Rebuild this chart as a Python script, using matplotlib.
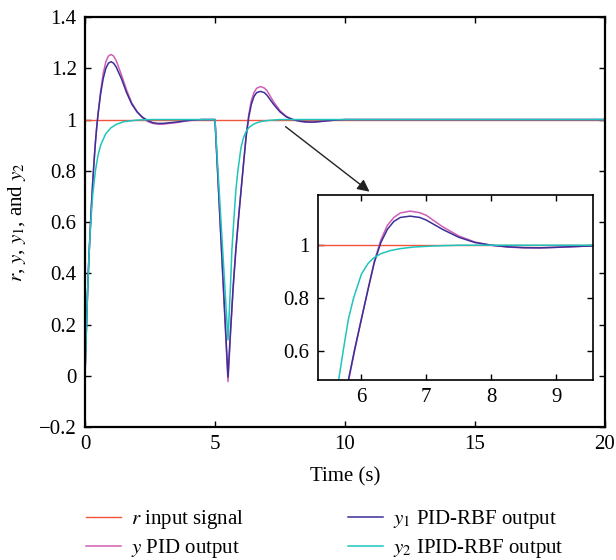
import matplotlib
matplotlib.use("Agg")
import matplotlib.pyplot as plt
from matplotlib.ticker import FuncFormatter, MultipleLocator

# ---------- Donnees ----------

# consigne r
t_r = [0, 20]
r = [1, 1]

# y : sortie PID
t_y = [0, 0.05, 0.1, 0.15, 0.2, 0.25, 0.3, 0.35, 0.4, 0.45, 0.5, 0.6, 0.7, 0.8, 0.9,
       1.0, 1.1, 1.2, 1.4, 1.6, 1.8, 2.0, 2.2, 2.4, 2.6, 2.8, 3.0, 3.5, 4.0, 4.5, 5.0,
       5.5, 5.6, 5.7, 5.8, 5.9, 6.0, 6.1, 6.2, 6.3, 6.4, 6.5, 6.6, 6.75,
       6.9, 7.0, 7.25, 7.5, 7.75, 8.0, 8.25, 8.5, 8.75, 9.0, 9.5, 10, 20]
y = [0, 0.17, 0.33, 0.46, 0.57, 0.67, 0.76, 0.84, 0.91, 0.97, 1.02, 1.11, 1.18, 1.225, 1.248,
     1.254, 1.248, 1.23, 1.175, 1.115, 1.065, 1.032, 1.008, 0.993, 0.985, 0.982, 0.982, 0.988, 0.996, 1.0, 1.0,
     -0.023, 0.17, 0.34, 0.485, 0.605, 0.72, 0.83, 0.94, 1.02, 1.075, 1.105, 1.122, 1.129,
     1.123, 1.113, 1.07, 1.035, 1.012, 1.0, 0.993, 0.99, 0.99, 0.992, 0.997, 1.0, 1.0]

# y1 : sortie PID-RBF
t_y1 = t_y
y1 = [0, 0.17, 0.33, 0.46, 0.57, 0.67, 0.76, 0.84, 0.91, 0.97, 1.02, 1.10, 1.16, 1.20, 1.22,
      1.226, 1.22, 1.205, 1.16, 1.105, 1.06, 1.03, 1.01, 0.997, 0.988, 0.985, 0.985, 0.99, 0.997, 1.0, 1.0,
      -0.005, 0.18, 0.35, 0.49, 0.61, 0.72, 0.83, 0.935, 1.01, 1.06, 1.09, 1.105, 1.11,
      1.105, 1.095, 1.06, 1.03, 1.01, 1.0, 0.994, 0.991, 0.99, 0.992, 0.997, 1.0, 1.0]

# y2 : sortie IPID-RBF
t_y2 = [0, 0.05, 0.1, 0.15, 0.2, 0.25, 0.3, 0.4, 0.5, 0.6, 0.8, 1.0, 1.2, 1.5, 2.0, 2.5, 5.0,
        5.5, 5.6, 5.65, 5.72, 5.8, 5.88, 6.0, 6.1, 6.19, 6.3, 6.45, 6.6, 6.8, 7.1, 7.5, 20]
y2 = [0, 0.17, 0.33, 0.46, 0.56, 0.64, 0.71, 0.80, 0.86, 0.90, 0.945, 0.968, 0.981, 0.992, 0.998, 1.0, 1.0,
      0.14, 0.36, 0.49, 0.60, 0.72, 0.80, 0.89, 0.93, 0.952, 0.968, 0.98, 0.987, 0.993, 0.997, 1.0, 1.0]

labels = [r"$r$ input signal", r"$y$ PID output",
          r"$y_1$ PID-RBF output", r"$y_2$ IPID-RBF output"]
colors = ["#f2553c", "#cf5fb4", "#3b2f98", "#1fc4bd"]

# ---------- Style ----------

plt.rcParams['font.family'] = ['Liberation Serif', 'DejaVu Serif']
plt.rcParams['mathtext.fontset'] = 'stix'
plt.rcParams['font.size'] = 15

fmt = FuncFormatter(lambda v, p: ("%g" % round(v, 3)).replace("-", "\u2212"))


def style_axes(ax, lw):
    for s in ax.spines.values():
        s.set_linewidth(lw)
    ax.tick_params(direction='in', top=True, right=True, length=4, width=1, pad=6)
    ax.xaxis.set_major_formatter(fmt)
    ax.yaxis.set_major_formatter(fmt)


def draw(ax):
    l0, = ax.plot(t_r, r, color=colors[0], lw=1.0)
    l1, = ax.plot(t_y, y, color=colors[1], lw=1.1)
    l2, = ax.plot(t_y1, y1, color=colors[2], lw=1.1)
    l3, = ax.plot(t_y2, y2, color=colors[3], lw=1.1)
    return [l0, l1, l2, l3]


fig = plt.figure(figsize=(6.16, 5.6), dpi=100)

ax = fig.add_axes([0.138, 0.2375, 0.844, 0.732])
lines = draw(ax)
ax.set_xlim(0, 20)
ax.set_ylim(-0.2, 1.4)
ax.xaxis.set_major_locator(MultipleLocator(5))
ax.yaxis.set_major_locator(MultipleLocator(0.2))
style_axes(ax, 1.6)
ax.set_xlabel("Time (s)", labelpad=9)
ax.set_ylabel(r"$r$, $y$, $y_1$, and $y_2$", labelpad=8)

# fleche vers le zoom
ax.annotate("", xy=(11.03, 0.712), xytext=(7.63, 0.979),
            arrowprops=dict(arrowstyle='-|>', color='#222222', lw=1.0, mutation_scale=18))

# zoom
axi = fig.add_axes([0.516, 0.3214, 0.447, 0.3304])
draw(axi)
axi.set_xlim(5.33, 9.57)
axi.set_ylim(0.49, 1.19)
axi.xaxis.set_major_locator(MultipleLocator(1))
axi.set_yticks([0.6, 0.8, 1.0])
style_axes(axi, 1.2)

fig.legend(lines, labels, loc='center left', bbox_to_anchor=(0.122, 0.046),
           ncol=2, frameon=False, borderpad=0, handlelength=1.7, handletextpad=0.46,
           columnspacing=5.0, labelspacing=0.3, fontsize=15)

plt.savefig("out.png", dpi=100)
